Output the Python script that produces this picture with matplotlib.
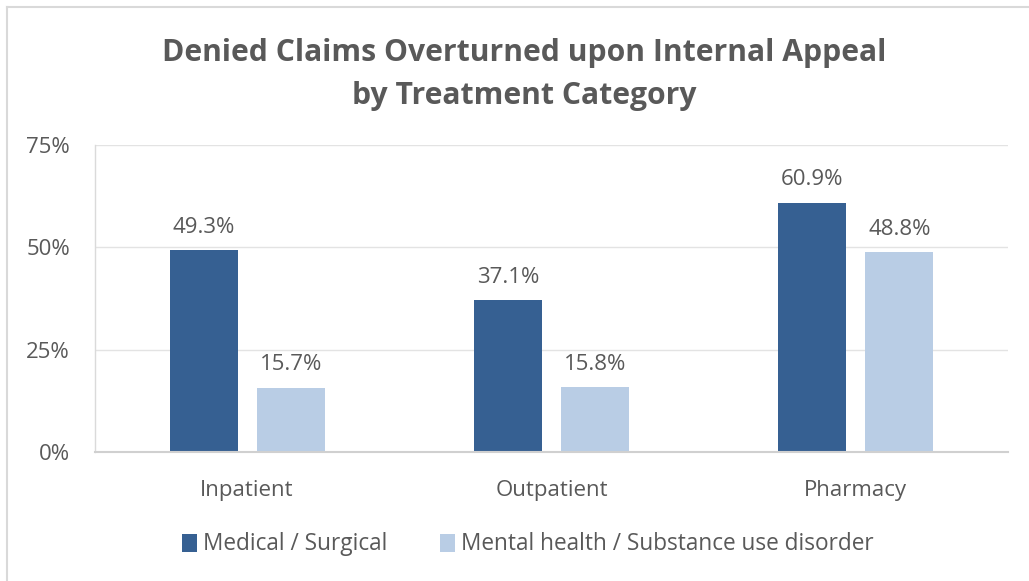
import matplotlib.pyplot as plt
from matplotlib.lines import Line2D
import numpy as np

categories = ['Inpatient', 'Outpatient', 'Pharmacy']
medical = [49.3, 37.1, 60.9]
mental = [15.7, 15.8, 48.8]
series_names = ['Medical / Surgical', 'Mental health / Substance use disorder']
yticks = [0, 25, 50, 75]

dark = '#366092'
light = '#B9CDE5'
text_gray = '#595959'

plt.rcParams['font.family'] = ['Open Sans', 'DejaVu Sans']


def main():
    fig = plt.figure(figsize=(10.29, 5.81), dpi=100)
    ax = fig.add_axes([0.0923, 0.222, 0.8873, 0.5284])

    x = np.arange(len(categories))
    w = 0.224
    off = 0.143
    b1 = ax.bar(x - off, medical, w, color=dark, label=series_names[0], zorder=3)
    b2 = ax.bar(x + off, mental, w, color=light, label=series_names[1], zorder=3)

    for bars, vals in ((b1, medical), (b2, mental)):
        for rect, v in zip(bars, vals):
            ax.annotate(f'{v:.1f}%', (rect.get_x() + rect.get_width() / 2, v),
                        xytext=(0, 9), textcoords='offset points',
                        ha='center', va='bottom', fontsize=16, color=text_gray)

    ax.set_xlim(-0.5, 2.5)
    ax.set_ylim(0, 75)
    ax.set_yticks(yticks)
    ax.set_yticklabels([f'{t}%' for t in yticks])
    ax.set_xticks(x)
    ax.set_xticklabels(categories)
    ax.tick_params(axis='y', length=0, pad=18, labelsize=16, labelcolor=text_gray)
    ax.tick_params(axis='x', length=0, pad=20, labelsize=16, labelcolor=text_gray)
    ax.grid(axis='y', color='#E3E3E3', linewidth=1, zorder=0)

    for s in ('top', 'right'):
        ax.spines[s].set_visible(False)
    ax.spines['left'].set_color('#DADADA')
    ax.spines['left'].set_linewidth(1)
    ax.spines['bottom'].set_color('#D0D0D0')
    ax.spines['bottom'].set_linewidth(1.5)
    ax.spines['bottom'].set_zorder(4)

    fig.text(0.509, 0.872, 'Denied Claims Overturned upon Internal Appeal\nby Treatment Category',
             ha='center', va='center', fontsize=21.7, fontweight='bold',
             color=text_gray, linespacing=1.58)

    leg = fig.legend(handles=[b1, b2], loc='center', bbox_to_anchor=(0.513, 0.063),
                     ncol=2, frameon=False, fontsize=16.3, handlelength=0.65,
                     handleheight=0.85, handletextpad=0.3, columnspacing=2.3)
    for t in leg.get_texts():
        t.set_color(text_gray)

    # chart area border (left and top edges visible)
    fig.add_artist(Line2D([7 / 1029, 7 / 1029], [0, 1 - 7 / 581], color='#D9D9D9', lw=1.5))
    fig.add_artist(Line2D([7 / 1029, 1], [1 - 7 / 581, 1 - 7 / 581], color='#D9D9D9', lw=1.5))

    fig.savefig('out.png', dpi=100)


if __name__ == "__main__":
    main()
